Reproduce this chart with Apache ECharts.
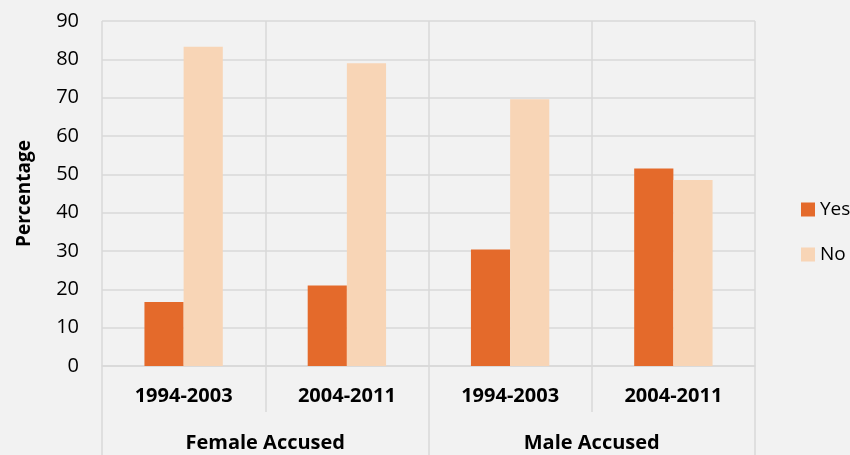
<!DOCTYPE html>
<html><head><meta charset="utf-8">
<script src="https://cdn.jsdelivr.net/npm/echarts@6/dist/echarts.min.js"></script>
<style>html,body{margin:0;padding:0;background:#f2f2f2}#c{width:850px;height:455px}</style>
</head><body><div id="c"></div>
<script>
const periods = ['1994-2003', '2004-2011', '1994-2003', '2004-2011'];
const groups = ['Female Accused', 'Male Accused'];
const yesValues = [16.7, 21.0, 30.4, 51.5];
const noValues = [83.3, 79.0, 69.6, 48.5];
const yTicks = [0, 10, 20, 30, 40, 50, 60, 70, 80, 90];

const font = 'Open Sans';
const grid = '#d9d9d9';
const chart = echarts.init(document.getElementById('c'));
chart.setOption({
  backgroundColor: '#f2f2f2',
  animation: false,
  textStyle: { fontFamily: font },
  grid: { left: 102, right: 95, top: 21, bottom: 89 },
  legend: {
    orient: 'vertical', left: 796, top: 195,
    itemWidth: 14, itemHeight: 14, itemGap: 26, icon: 'rect',
    textStyle: { fontFamily: font, fontSize: 19, color: '#000' },
    data: ['Yes', 'No']
  },
  xAxis: [
    {
      type: 'category', data: periods, position: 'bottom',
      axisLine: { show: true, lineStyle: { color: grid, width: 1.5 } },
      axisTick: { show: true, length: 46, interval: 0, lineStyle: { color: grid, width: 1.5 } },
      axisLabel: { fontFamily: font, fontSize: 20, fontWeight: 'bold', color: '#000', margin: 20, interval: 0 },
      splitLine: { show: true, interval: 0, lineStyle: { color: grid, width: 1.5 } }
    },
    {
      type: 'category', data: groups, position: 'bottom',
      axisLine: { show: false },
      axisTick: { show: true, length: 89, interval: 0, lineStyle: { color: grid, width: 1.5 } },
      axisLabel: { fontFamily: font, fontSize: 20, fontWeight: 'bold', color: '#000', margin: 67, interval: 0 },
      splitLine: { show: false }
    }
  ],
  yAxis: {
    type: 'value', min: yTicks[0], max: yTicks[yTicks.length - 1], interval: 10,
    name: 'Percentage', nameLocation: 'middle', nameGap: 68, nameRotate: 90,
    nameTextStyle: { fontFamily: font, fontSize: 19, fontWeight: 'bold', color: '#000' },
    axisLine: { show: false }, axisTick: { show: false },
    axisLabel: { fontFamily: font, fontSize: 20, color: '#000', margin: 23 },
    splitLine: { show: true, lineStyle: { color: grid, width: 1.5 } }
  },
  series: [
    { name: 'Yes', type: 'bar', data: yesValues, barGap: '0%', barCategoryGap: '52%',
      itemStyle: { color: '#e46a2b' } },
    { name: 'No', type: 'bar', data: noValues, barGap: '0%', barCategoryGap: '52%',
      itemStyle: { color: '#f8d5b6' } }
  ]
});
</script></body></html>
